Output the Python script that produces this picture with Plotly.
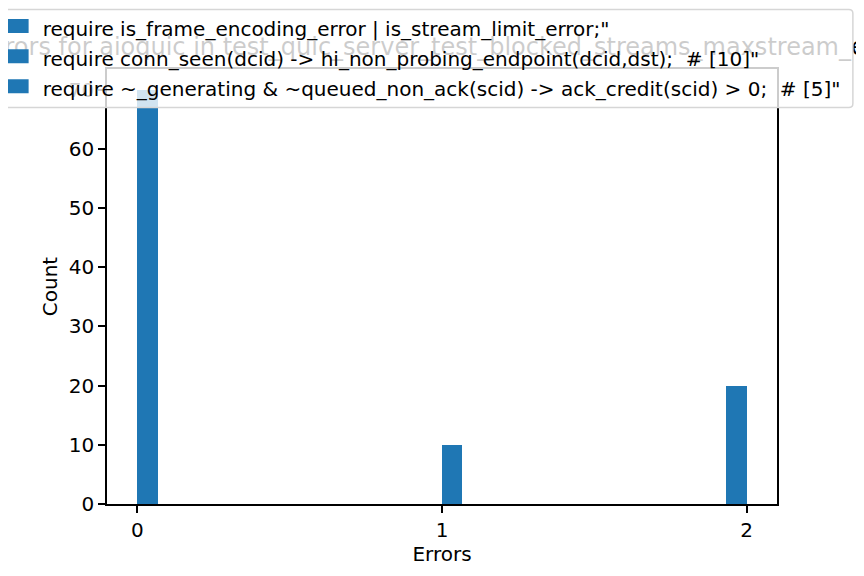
import numpy as np
import plotly.graph_objects as go

# ---- data ----
error_values = [0, 1, 2]
error_counts = [70, 10, 20]
n_bins = 30
bin_range = (0, 2)
legend_labels = [
    'require is_frame_encoding_error | is_stream_limit_error;"',
    'require conn_seen(dcid) -> hi_non_probing_endpoint(dcid,dst);  # [10]"',
    'require ~_generating & ~queued_non_ack(scid) -> ack_credit(scid) > 0;  # [5]"',
]
title_text = "Errors for aioquic in test_quic_server_test_blocked_streams_maxstream_error"
x_ticks = [0, 1, 2]
y_ticks = [0, 10, 20, 30, 40, 50, 60, 70]

counts, edges = np.histogram(error_values, bins=n_bins, range=bin_range, weights=error_counts)
mask = counts > 0
bar_left = edges[:-1][mask]
bar_w = np.diff(edges)[mask]
bar_h = counts[mask]

BLUE = "#1f77b4"
FONT = "DejaVu Sans"
FS = 20

# ---- geometry, in screen pixels (page body adds an 8px offset) ----
OFF = 8
W, H = 864, 576
SL, SR, ST, SB = 106.5, 777.5, 69, 504      # axes box on screen
ml = SL - OFF
mr = W - (SR - OFF)
mt = 0
mb = H - (SB - OFF)
pw = SR - SL
ph = (SB - OFF) - mt                          # height of paper area
XR = [-0.1, 2.1]
YR = [0, 73.5]
main_top = (SB - ST) / ph                     # y-domain top of main axes

def px_x(p):
    return (p - SL) / pw

def px_y(p):
    return (SB - p) / ph

fig = go.Figure()
# title text (own invisible subplot above the axes so the translucent legend covers it)
title_cx = 444.5
title_cy = 49
fig.add_trace(go.Scatter(
    x=[XR[0] + px_x(title_cx) * (XR[1] - XR[0])], y=[(ST - title_cy) / (ST - OFF - mt)],
    xaxis="x2", yaxis="y2",
    mode="text", text=[title_text], textposition="middle center",
    textfont=dict(size=24, family=FONT, color="black"),
    cliponaxis=False, showlegend=False, hoverinfo="skip"))

fig.add_trace(go.Bar(x=bar_left, y=bar_h, width=bar_w, offset=0,
                     marker=dict(color=BLUE, line=dict(width=0)),
                     name="Errors", showlegend=False))
for i, lab in enumerate(legend_labels):
    fig.add_trace(go.Bar(x=[None], y=[None],
                         marker=dict(color="rgba(0,0,0,0)", line=dict(width=0, color="rgba(0,0,0,0)")),
                         name=lab, legendgroup="g%d" % i, showlegend=True))

# legend frame and colour patches
lx0, ly0, lx1, ly1, rad = -20, 9.5, 853.5, 107.5, 4
def P(x, y):
    return "%.5f,%.5f" % (px_x(x), px_y(y))
frame = ("M" + P(lx0, ly0) + " L" + P(lx1 - rad, ly0) + " Q" + P(lx1, ly0) + " " + P(lx1, ly0 + rad)
         + " L" + P(lx1, ly1 - rad) + " Q" + P(lx1, ly1) + " " + P(lx1 - rad, ly1)
         + " L" + P(lx0, ly1) + " Z")
shapes = [dict(type="path", path=frame, xref="paper", yref="paper", layer="above",
               fillcolor="rgba(255,255,255,0.8)", line=dict(color="#d6d6d6", width=1.5))]
row_centers = [26, 56.2, 86.2]
for yc in row_centers:
    shapes.append(dict(type="rect", xref="paper", yref="paper", layer="above",
                       x0=px_x(-12), x1=px_x(28), y0=px_y(yc - 7), y1=px_y(yc + 7),
                       fillcolor=BLUE, line=dict(width=0)))

axis_style = dict(showline=True, mirror=True, linecolor="black", linewidth=1.6,
                  ticks="outside", ticklen=7, tickwidth=1.6, tickcolor="black",
                  showgrid=False, zeroline=False, tickfont=dict(size=FS))

fig.update_layout(
    width=W, height=H,
    margin=dict(l=ml, r=mr, t=mt, b=mb, pad=0, autoexpand=False),
    paper_bgcolor="white", plot_bgcolor="white",
    barmode="overlay", bargap=0,
    font=dict(family=FONT, size=FS, color="black"),
    shapes=shapes,
    legend=dict(x=px_x(2), y=px_y(9), xanchor="left", yanchor="top",
                xref="paper", yref="paper",
                bgcolor="rgba(0,0,0,0)", borderwidth=0,
                font=dict(size=FS, family=FONT, color="black"),
                tracegroupgap=1, traceorder="grouped"),
    showlegend=True,
    xaxis=dict(domain=[0, 1], anchor="y", range=XR, tickvals=x_ticks,
               ticktext=[str(v) for v in x_ticks],
               title=dict(text="Errors", standoff=4, font=dict(size=FS)), **axis_style),
    yaxis=dict(domain=[0, main_top], anchor="x", range=YR, tickvals=y_ticks,
               ticktext=[str(v) for v in y_ticks],
               title=dict(text="Count", standoff=6, font=dict(size=FS)), **axis_style),
    xaxis2=dict(domain=[0, 1], anchor="y2", range=XR, visible=False, fixedrange=True),
    yaxis2=dict(domain=[main_top, 1], anchor="x2", range=[0, 1], visible=False, fixedrange=True),
)

fig.write_html("out.html")
